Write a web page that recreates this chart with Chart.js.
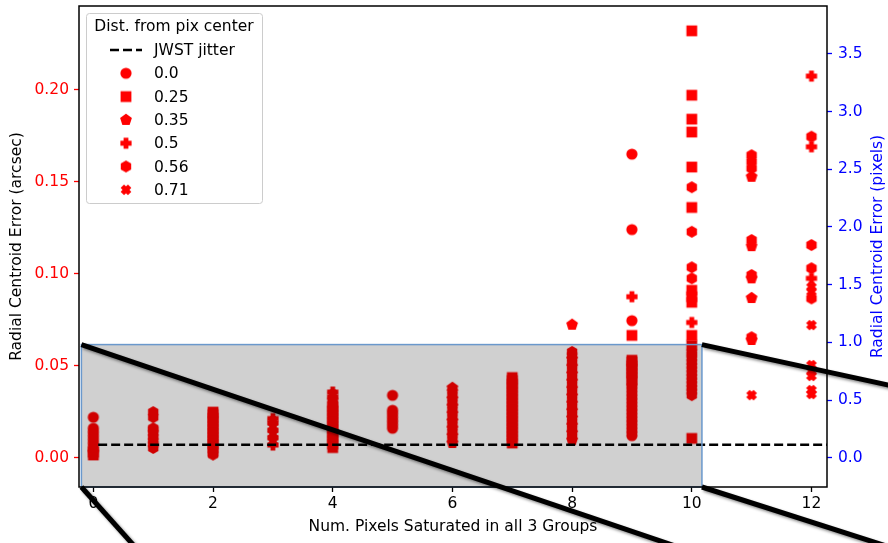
<!DOCTYPE html>
<html>
<head>
<meta charset="utf-8">
<script src="https://cdn.jsdelivr.net/npm/chart.js@4.4.1/dist/chart.umd.min.js"></script>
<style>
html, body { margin: 0; padding: 0; background: #fff; }
canvas { display: block; }
</style>
</head>
<body>
<canvas id="centroidChart" width="888" height="543"></canvas>
<script>
// [num. saturated pixels, radial centroid error (arcsec)] per distance from pixel centre
const dist00 = [
    [0, 0.004], [0, 0.006], [0, 0.008], [0, 0.010], [0, 0.012], [0, 0.014], [0, 0.016], [0, 0.022],
    [5, 0.016], [5, 0.018], [5, 0.020], [5, 0.022], [5, 0.024], [5, 0.0258], [5, 0.0339],
    [9, 0.012], [9, 0.014], [9, 0.016], [9, 0.018], [9, 0.020], [9, 0.022], [9, 0.024], [9, 0.026],
    [9, 0.028], [9, 0.030], [9, 0.032], [9, 0.034], [9, 0.036], [9, 0.038], [9, 0.040],
    [9, 0.0745], [9, 0.124], [9, 0.165]
];
const dist025 = [
    [0, 0.0015], [0, 0.003],
    [2, 0.0035], [2, 0.0055], [2, 0.0075], [2, 0.0095], [2, 0.0115], [2, 0.0135], [2, 0.0155],
    [2, 0.0175], [2, 0.0195], [2, 0.0215], [2, 0.0235], [2, 0.0248],
    [4, 0.0055], [4, 0.0075], [4, 0.0095], [4, 0.0115], [4, 0.0135], [4, 0.0155], [4, 0.0175],
    [4, 0.0195], [4, 0.0215], [4, 0.0235], [4, 0.0255], [4, 0.0275], [4, 0.0295],
    [7, 0.008], [7, 0.010], [7, 0.012], [7, 0.014], [7, 0.016], [7, 0.018], [7, 0.020], [7, 0.022],
    [7, 0.024], [7, 0.026], [7, 0.028], [7, 0.030], [7, 0.032], [7, 0.034], [7, 0.036], [7, 0.038],
    [7, 0.040], [7, 0.042], [7, 0.0436],
    [9, 0.042], [9, 0.044], [9, 0.046], [9, 0.048], [9, 0.050], [9, 0.052], [9, 0.053], [9, 0.0665],
    [10, 0.0105], [10, 0.061], [10, 0.0665], [10, 0.0845], [10, 0.0875], [10, 0.091],
    [10, 0.136], [10, 0.158], [10, 0.177], [10, 0.184], [10, 0.197], [10, 0.232]
];
const dist035 = [
    [6, 0.008], [6, 0.012], [6, 0.016], [6, 0.020], [6, 0.024], [6, 0.028], [6, 0.032], [6, 0.036], [6, 0.038],
    [8, 0.0096], [8, 0.0136], [8, 0.0176], [8, 0.0216], [8, 0.0256], [8, 0.0296], [8, 0.0336],
    [8, 0.0376], [8, 0.0416], [8, 0.0456], [8, 0.0496], [8, 0.0536], [8, 0.0723],
    [11, 0.1527], [11, 0.115], [11, 0.0975], [11, 0.0868], [11, 0.064]
];
const dist05 = [
    [3, 0.0069], [3, 0.0109], [3, 0.0149], [3, 0.0189], [3, 0.0213],
    [4, 0.033], [4, 0.0357],
    [9, 0.0875], [10, 0.0735],
    [12, 0.2074], [12, 0.169], [12, 0.0975]
];
const dist056 = [
    [1, 0.0053], [1, 0.0073], [1, 0.0093], [1, 0.0113], [1, 0.0133], [1, 0.0153], [1, 0.016],
    [1, 0.022], [1, 0.0248],
    [2, 0.0017],
    [6, 0.010], [6, 0.014], [6, 0.018], [6, 0.022], [6, 0.026], [6, 0.030], [6, 0.034],
    [8, 0.0116], [8, 0.0156], [8, 0.0196], [8, 0.0236], [8, 0.0276], [8, 0.0316], [8, 0.0356],
    [8, 0.0396], [8, 0.0436], [8, 0.0476], [8, 0.0516], [8, 0.0556], [8, 0.0575],
    [10, 0.034], [10, 0.036], [10, 0.038], [10, 0.040], [10, 0.042], [10, 0.044], [10, 0.046],
    [10, 0.048], [10, 0.050], [10, 0.052], [10, 0.054], [10, 0.056], [10, 0.0572],
    [10, 0.0975], [10, 0.1035], [10, 0.1228], [10, 0.147],
    [11, 0.1644], [11, 0.1609], [11, 0.1573], [11, 0.1183], [11, 0.0993], [11, 0.0655],
    [12, 0.1745], [12, 0.1156], [12, 0.103], [12, 0.0866]
];
const dist071 = [
    [3, 0.0089], [3, 0.0129], [3, 0.0169], [3, 0.020],
    [4, 0.0315], [4, 0.0345],
    [11, 0.034],
    [12, 0.0929], [12, 0.0902], [12, 0.0721], [12, 0.0504], [12, 0.0471], [12, 0.0444],
    [12, 0.0368], [12, 0.0346]
];

const distSeries = [dist00, dist025, dist035, dist05, dist056, dist071];
const distLabels = ['0.0', '0.25', '0.35', '0.5', '0.56', '0.71'];
const distShapes = ['circle', 'square', 'pentagon', 'plus', 'hexagon', 'cross'];

const xTicks = [0, 2, 4, 6, 8, 10, 12];
const arcsecTicks = [0, 0.05, 0.10, 0.15, 0.20];
const pixelTicks = [0, 0.5, 1.0, 1.5, 2.0, 2.5, 3.0, 3.5];

const JWST_JITTER = 0.007;   // arcsec
const PIX_SCALE = 0.0627;    // arcsec / pixel
const X_MIN = -0.24, X_MAX = 12.26;
const Y_MIN = -0.0159, Y_MAX = 0.2455;

// zoom region and its connector lines, in data units
const zoomBox = { x0: -0.2, x1: 10.17, y0: Y_MIN, y1: 0.0615 };
const connectors = [
    [[-0.2, 0.0615], [9.58, -0.0464]],
    [[-0.2, Y_MIN], [0.64, -0.0464]],
    [[10.17, 0.0615], [13.28, 0.0395]],
    [[10.17, Y_MIN], [13.1, -0.0464]]
];

const FONT = 'DejaVu Sans';
const FONT_SIZE = 15.5;
Chart.defaults.font.family = FONT;
Chart.defaults.font.size = FONT_SIZE;

function makeMarker(shape, color) {
    const c = document.createElement('canvas');
    c.width = 16;
    c.height = 16;
    const g = c.getContext('2d');
    g.fillStyle = color;
    g.translate(8, 8);
    g.beginPath();
    if (shape === 'circle') {
        g.arc(0, 0, 5.6, 0, Math.PI * 2);
    } else if (shape === 'square') {
        g.rect(-5.4, -5.4, 10.8, 10.8);
    } else if (shape === 'pentagon' || shape === 'hexagon') {
        const n = shape === 'pentagon' ? 5 : 6;
        const r = shape === 'pentagon' ? 6.2 : 6.0;
        for (let i = 0; i < n; i++) {
            const a = -Math.PI / 2 + i * 2 * Math.PI / n;
            g.lineTo(r * Math.cos(a), r * Math.sin(a));
        }
        g.closePath();
    } else {
        let a = 5.6, w = 2.4;
        if (shape === 'cross') {
            g.rotate(Math.PI / 4);
            a = 5.2;
        }
        g.moveTo(-w, -a); g.lineTo(w, -a); g.lineTo(w, -w); g.lineTo(a, -w);
        g.lineTo(a, w); g.lineTo(w, w); g.lineTo(w, a); g.lineTo(-w, a);
        g.lineTo(-w, w); g.lineTo(-a, w); g.lineTo(-a, -w); g.lineTo(-w, -w);
        g.closePath();
    }
    g.fill();
    return c;
}

const markers = {};
distShapes.forEach(s => {
    markers[s] = { red: makeMarker(s, '#ff0000'), dark: makeMarker(s, '#d00000') };
});

function inZoom(p) {
    return p.x >= zoomBox.x0 && p.x <= zoomBox.x1 && p.y >= zoomBox.y0 && p.y <= zoomBox.y1;
}

const datasets = [{
    label: 'JWST jitter',
    data: [{ x: 0.08, y: JWST_JITTER }, { x: X_MAX, y: JWST_JITTER }],
    showLine: true,
    borderColor: '#000',
    borderWidth: 2.5,
    borderDash: [9, 4],
    pointRadius: 0,
    isJitter: true
}];
distSeries.forEach((series, i) => {
    const shape = distShapes[i];
    datasets.push({
        label: distLabels[i],
        data: series.map(([x, y]) => ({ x: x, y: y })),
        markerShape: shape,
        pointStyle: ctx => (ctx.raw && inZoom(ctx.raw)) ? markers[shape].dark : markers[shape].red,
        pointRadius: 5,
        backgroundColor: '#ff0000',
        borderColor: '#ff0000'
    });
});

function fixTicks(values) {
    return scale => { scale.ticks = values.map(v => ({ value: v })); };
}

const overlayPlugin = {
    id: 'overlay',
    beforeDraw(chart) {
        const ctx = chart.ctx;
        ctx.save();
        ctx.fillStyle = '#fff';
        ctx.fillRect(0, 0, chart.width, chart.height);
        ctx.restore();
    },
    beforeDatasetsDraw(chart) {
        const { ctx, scales: { x, y } } = chart;
        const bx0 = x.getPixelForValue(zoomBox.x0), bx1 = x.getPixelForValue(zoomBox.x1);
        const by0 = y.getPixelForValue(zoomBox.y0), by1 = y.getPixelForValue(zoomBox.y1);
        ctx.save();
        ctx.fillStyle = '#d0d0d0';
        ctx.fillRect(bx0, by1, bx1 - bx0, by0 - by1);
        ctx.restore();
    },
    afterDatasetsDraw(chart) {
        const { ctx, chartArea, scales: { x, y } } = chart;
        const bx0 = x.getPixelForValue(zoomBox.x0), bx1 = x.getPixelForValue(zoomBox.x1);
        const by0 = y.getPixelForValue(zoomBox.y0), by1 = y.getPixelForValue(zoomBox.y1);
        ctx.save();
        ctx.strokeStyle = '#6a98cc';
        ctx.lineWidth = 1.5;
        ctx.strokeRect(bx0, by1, bx1 - bx0, by0 - by1);
        ctx.strokeStyle = '#000';
        ctx.lineWidth = 1.5;
        ctx.strokeRect(chartArea.left, chartArea.top,
            chartArea.right - chartArea.left, chartArea.bottom - chartArea.top);
        ctx.restore();
    },
    afterDraw(chart) {
        const { ctx, chartArea, scales: { x, y, y2 } } = chart;

        // connector lines to the (off-figure) zoom panel
        ctx.save();
        ctx.strokeStyle = '#000';
        ctx.lineWidth = 5;
        ctx.shadowColor = 'rgba(0,0,0,0.45)';
        ctx.shadowBlur = 3;
        ctx.shadowOffsetX = 2;
        ctx.shadowOffsetY = 2;
        connectors.forEach(([p0, p1]) => {
            const x0 = x.getPixelForValue(p0[0]), y0 = y.getPixelForValue(p0[1]);
            const x1 = x.getPixelForValue(p1[0]), y1 = y.getPixelForValue(p1[1]);
            ctx.beginPath();
            ctx.moveTo(x0, y0);
            ctx.lineTo(x0 + (x1 - x0) * 4, y0 + (y1 - y0) * 4);
            ctx.stroke();
        });
        ctx.restore();

        // right axis title, reading bottom to top
        ctx.save();
        ctx.translate(y2.right - 10.5, (chartArea.top + chartArea.bottom) / 2);
        ctx.rotate(-Math.PI / 2);
        ctx.fillStyle = '#0000ff';
        ctx.font = FONT_SIZE + 'px "' + FONT + '"';
        ctx.textAlign = 'center';
        ctx.textBaseline = 'middle';
        ctx.fillText('Radial Centroid Error (pixels)', 0, 0);
        ctx.restore();

        // legend
        const lx = chartArea.left + 7, ly = chartArea.top + 7, lw = 176, lh = 190;
        ctx.save();
        ctx.beginPath();
        ctx.roundRect(lx + 0.5, ly + 0.5, lw, lh, 3);
        ctx.fillStyle = 'rgba(255,255,255,0.8)';
        ctx.fill();
        ctx.strokeStyle = '#cccccc';
        ctx.lineWidth = 1;
        ctx.stroke();
        ctx.font = FONT_SIZE + 'px "' + FONT + '"';
        ctx.fillStyle = '#000';
        ctx.textBaseline = 'middle';
        ctx.textAlign = 'center';
        ctx.fillText('Dist. from pix center', lx + lw / 2, ly + 14);
        ctx.textAlign = 'left';
        chart.data.datasets.forEach((ds, i) => {
            const ry = ly + 37 + i * 23.3;
            if (ds.isJitter) {
                ctx.save();
                ctx.strokeStyle = '#000';
                ctx.lineWidth = 2.5;
                ctx.setLineDash([9, 4]);
                ctx.beginPath();
                ctx.moveTo(lx + 24, ry);
                ctx.lineTo(lx + 56, ry);
                ctx.stroke();
                ctx.restore();
            } else {
                const m = markers[ds.markerShape].red;
                ctx.drawImage(m, lx + 40 - m.width / 2, ry - m.height / 2);
            }
            ctx.fillText(ds.label, lx + 68, ry + 1);
        });
        ctx.restore();
    }
};

new Chart(document.getElementById('centroidChart'), {
    type: 'scatter',
    data: { datasets: datasets },
    options: {
        responsive: false,
        animation: false,
        devicePixelRatio: 1,
        events: [],
        layout: { padding: { top: 6, left: 0, right: 0, bottom: 0 } },
        plugins: { legend: { display: false }, tooltip: { enabled: false } },
        scales: {
            x: {
                type: 'linear',
                position: 'bottom',
                min: X_MIN,
                max: X_MAX,
                afterBuildTicks: fixTicks(xTicks),
                afterFit: s => { s.height = 56; s.paddingLeft = 0; s.paddingRight = 0; },
                border: { display: false },
                grid: { drawOnChartArea: false, drawTicks: true, tickLength: 5, tickWidth: 1.3, tickColor: '#000' },
                ticks: { color: '#000', padding: 3, autoSkip: false, maxRotation: 0, callback: v => String(v) },
                title: { display: true, text: 'Num. Pixels Saturated in all 3 Groups', color: '#000',
                         padding: { top: 0, bottom: 7 } }
            },
            y: {
                type: 'linear',
                position: 'left',
                min: Y_MIN,
                max: Y_MAX,
                afterBuildTicks: fixTicks(arcsecTicks),
                afterFit: s => { s.width = 79; s.paddingTop = 0; s.paddingBottom = 0; },
                border: { display: false },
                grid: { drawOnChartArea: false, drawTicks: true, tickLength: 5, tickWidth: 1.3, tickColor: '#ff0000' },
                ticks: { color: '#ff0000', padding: 5, autoSkip: false, callback: v => v.toFixed(2) },
                title: { display: true, text: 'Radial Centroid Error (arcsec)', color: '#000',
                         padding: { top: 8, bottom: 0 } }
            },
            y2: {
                type: 'linear',
                position: 'right',
                min: Y_MIN / PIX_SCALE,
                max: Y_MAX / PIX_SCALE,
                afterBuildTicks: fixTicks(pixelTicks),
                afterFit: s => { s.width = 61; s.paddingTop = 0; s.paddingBottom = 0; },
                border: { display: false },
                grid: { drawOnChartArea: false, drawTicks: true, tickLength: 5, tickWidth: 1.3, tickColor: '#0000ff' },
                ticks: { color: '#0000ff', padding: 6, autoSkip: false, callback: v => v.toFixed(1) }
            }
        }
    },
    plugins: [overlayPlugin]
});
</script>
</body>
</html>
